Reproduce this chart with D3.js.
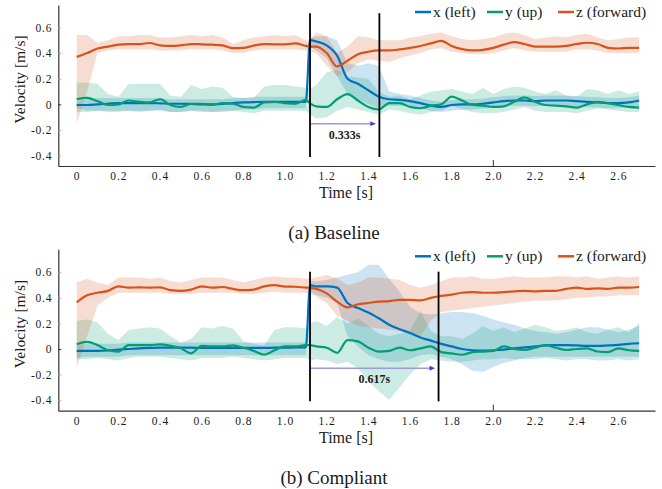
<!DOCTYPE html>
<html>
<head>
<meta charset="UTF-8">
<title>Velocity</title>
<script src="https://d3js.org/d3.v7.min.js"></script>
<style>
  body { margin: 0; background: #fff; }
  svg, svg text { font-family: "Liberation Serif", "Times New Roman", "DejaVu Serif", serif !important; }
  svg text { fill: #1a1a1a; }
</style>
</head>
<body>
<div id="chart"></div>
<script>
// time grid [s]
const T = [0,0.05,0.1,0.15,0.2,0.25,0.3,0.35,0.4,0.45,0.5,0.55,0.6,0.65,0.7,0.75,0.8,0.85,0.9,0.95,1.0,1.05,1.1,
  1.12,1.15,1.2,1.25,1.3,1.35,1.4,1.45,1.5,1.55,1.6,1.65,1.7,1.75,1.8,1.85,1.9,1.95,2.0,2.05,2.1,2.15,2.2,2.25,2.3,2.35,2.4,2.45,2.5,2.55,2.6,2.65,2.7];

const seriesNames = ["x (left)", "y (up)", "z (forward)"];
const seriesColors = ["#0072bd", "#009e73", "#d95319"];

// (a) Baseline
const bX   = [-0.005,-0.005,0,0.005,0.01,0.01,0.01,0.01,0.008,0.005,0.005,0.003,0,0,0.003,0.01,0.015,0.018,0.02,0.02,0.02,0.02,0.02,
  0.5,0.49,0.46,0.38,0.2,0.16,0.11,0.06,0.04,0.035,0.025,0.01,-0.01,-0.02,-0.005,0,0,0.005,0.015,0.025,0.03,0.03,0.025,0.03,0.03,0.03,0.025,0.02,0.015,0.01,0.01,0.015,0.03];
const bXlo = [-0.03,-0.05,-0.05,-0.05,-0.05,-0.05,-0.06,-0.05,-0.05,-0.06,-0.06,-0.05,-0.06,-0.06,-0.06,-0.05,-0.04,-0.04,-0.03,-0.03,-0.03,-0.03,-0.03,
  0.45,0.42,0.36,0.22,0.08,0.04,0,-0.03,-0.01,-0.01,-0.02,-0.03,-0.05,-0.06,-0.05,-0.04,-0.04,-0.035,-0.025,-0.015,-0.01,-0.01,-0.015,-0.01,-0.01,-0.01,-0.015,-0.02,-0.025,-0.03,-0.03,-0.025,-0.01];
const bXhi = [0.02,0.04,0.05,0.05,0.05,0.05,0.05,0.05,0.05,0.04,0.04,0.04,0.04,0.04,0.04,0.05,0.05,0.06,0.06,0.06,0.06,0.06,0.06,
  0.52,0.53,0.53,0.5,0.32,0.3,0.32,0.3,0.1,0.08,0.07,0.05,0.03,0.02,0.035,0.04,0.04,0.045,0.055,0.065,0.07,0.07,0.065,0.07,0.07,0.07,0.065,0.06,0.055,0.05,0.05,0.055,0.07];
const bY   = [0.04,0.05,0.025,-0.005,0,0.03,0.02,0.015,0.04,-0.005,-0.02,0.005,0.005,-0.005,0.01,0.005,-0.02,-0.025,0.015,0.02,0.01,0.005,0.035,
  0.008,-0.015,-0.02,0.04,0.08,0.03,-0.02,-0.04,0.01,0.01,-0.02,-0.03,-0.01,0,0.06,0.03,-0.005,-0.01,-0.02,-0.015,0.02,0.055,0.02,-0.005,-0.01,-0.015,-0.025,0,0.02,0.01,-0.005,-0.02,-0.025];
const bYlo = [-0.06,-0.06,-0.05,-0.06,-0.06,-0.05,-0.05,-0.05,-0.04,-0.06,-0.06,-0.05,-0.05,-0.06,-0.05,-0.05,-0.06,-0.07,-0.05,-0.05,-0.05,-0.05,-0.05,
  -0.08,-0.11,-0.1,-0.05,-0.02,-0.04,-0.06,-0.08,-0.04,-0.05,-0.07,-0.08,-0.06,-0.05,-0.01,-0.04,-0.06,-0.07,-0.07,-0.06,-0.04,-0.02,-0.05,-0.06,-0.06,-0.06,-0.07,-0.05,-0.03,-0.04,-0.05,-0.06,-0.06];
const bYhi = [0.17,0.17,0.16,0.08,0.06,0.16,0.16,0.16,0.16,0.07,0.06,0.15,0.12,0.14,0.13,0.06,0.05,0.05,0.14,0.15,0.15,0.14,0.13,
  0.12,0.15,0.25,0.27,0.22,0.21,0.2,0.1,0.06,0.07,0.04,0.07,0.1,0.11,0.12,0.1,0.08,0.13,0.08,0.12,0.14,0.13,0.1,0.08,0.11,0.07,0.06,0.12,0.11,0.08,0.11,0.08,0.1];
const bZ   = [0.37,0.4,0.435,0.45,0.465,0.47,0.47,0.478,0.46,0.455,0.46,0.47,0.468,0.465,0.46,0.438,0.44,0.458,0.47,0.468,0.468,0.475,0.455,
  0.45,0.45,0.4,0.295,0.34,0.39,0.41,0.42,0.42,0.428,0.44,0.455,0.475,0.495,0.455,0.43,0.42,0.425,0.44,0.465,0.485,0.47,0.45,0.45,0.45,0.455,0.47,0.48,0.47,0.44,0.435,0.44,0.44];
const bZlo = [-0.15,0.1,0.4,0.42,0.43,0.43,0.43,0.43,0.42,0.42,0.42,0.43,0.43,0.43,0.42,0.4,0.4,0.42,0.43,0.43,0.43,0.43,0.42,
  0.41,0.4,0.3,0.22,0.25,0.32,0.35,0.34,0.33,0.36,0.38,0.4,0.43,0.44,0.41,0.4,0.39,0.39,0.4,0.42,0.44,0.42,0.41,0.41,0.41,0.41,0.43,0.43,0.42,0.4,0.4,0.4,0.4];
const bZhi = [0.54,0.54,0.48,0.5,0.53,0.53,0.54,0.54,0.52,0.52,0.53,0.54,0.53,0.54,0.52,0.47,0.5,0.52,0.53,0.54,0.53,0.54,0.5,
  0.5,0.56,0.53,0.4,0.45,0.53,0.52,0.5,0.5,0.5,0.52,0.53,0.55,0.56,0.53,0.51,0.5,0.51,0.52,0.55,0.56,0.54,0.51,0.52,0.53,0.52,0.54,0.55,0.52,0.5,0.51,0.52,0.52];

// (b) Compliant
const cX   = [-0.015,-0.015,-0.015,-0.012,-0.005,0,0.005,0.008,0.01,0.01,0.01,0.01,0.008,0.008,0.008,0.008,0.008,0.008,0.008,0.01,0.01,0.012,0.012,
  0.5,0.49,0.49,0.48,0.36,0.32,0.285,0.24,0.19,0.155,0.125,0.09,0.065,0.04,0.02,0,-0.01,-0.012,-0.01,-0.005,0.005,0.012,0.02,0.028,0.03,0.03,0.028,0.025,0.025,0.028,0.032,0.04,0.045];
const cXlo = [-0.07,-0.06,-0.06,-0.06,-0.06,-0.05,-0.05,-0.05,-0.05,-0.05,-0.05,-0.05,-0.05,-0.05,-0.05,-0.05,-0.05,-0.05,-0.05,-0.05,-0.05,-0.05,-0.05,
  0.45,0.42,0.4,0.36,0.1,0.02,-0.05,-0.08,-0.1,-0.1,-0.08,-0.05,-0.04,-0.06,-0.08,-0.12,-0.17,-0.18,-0.14,-0.11,-0.09,-0.07,-0.06,-0.06,-0.06,-0.06,-0.06,-0.06,-0.06,-0.06,-0.06,-0.06,-0.06];
const cXhi = [0.03,0.04,0.04,0.04,0.04,0.05,0.05,0.05,0.05,0.05,0.05,0.05,0.05,0.05,0.05,0.05,0.05,0.05,0.05,0.05,0.05,0.05,0.05,
  0.53,0.53,0.54,0.56,0.58,0.6,0.66,0.66,0.55,0.45,0.33,0.28,0.27,0.28,0.29,0.29,0.28,0.26,0.23,0.21,0.19,0.16,0.14,0.13,0.12,0.13,0.15,0.17,0.17,0.15,0.13,0.15,0.18];
const cY   = [0.037,0.055,0.03,-0.01,-0.02,0.03,0.03,0.03,0.036,0.025,0.005,-0.034,0.025,0.02,0.02,0.028,0.01,-0.015,-0.045,-0.01,0.02,0.02,0.03,
  0.03,0.02,0.01,-0.03,0.07,0.06,0.01,-0.02,-0.015,0.01,-0.01,0.005,0.02,-0.025,-0.035,-0.045,-0.025,-0.02,-0.015,0.02,0,-0.008,0.01,0.03,0.01,-0.008,0,0.005,-0.02,-0.025,0.005,-0.01,-0.015];
const cYlo = [-0.08,-0.08,-0.07,-0.08,-0.09,-0.07,-0.06,-0.06,-0.06,-0.07,-0.08,-0.09,-0.07,-0.07,-0.07,-0.06,-0.07,-0.08,-0.09,-0.08,-0.07,-0.07,-0.07,
  -0.09,-0.08,-0.09,-0.12,-0.1,-0.15,-0.25,-0.33,-0.4,-0.3,-0.2,-0.12,-0.08,-0.09,-0.1,-0.1,-0.09,-0.08,-0.08,-0.07,-0.08,-0.08,-0.08,-0.07,-0.08,-0.09,-0.08,-0.08,-0.09,-0.09,-0.08,-0.09,-0.08];
const cYhi = [0.22,0.23,0.21,0.12,0.07,0.15,0.16,0.17,0.16,0.1,0.05,0.08,0.17,0.16,0.18,0.16,0.06,0.04,0.03,0.15,0.17,0.17,0.16,
  0.2,0.22,0.18,0.25,0.2,0.24,0.18,0.12,0.1,0.12,0.14,0.3,0.14,0.1,0.1,0.08,0.12,0.18,0.14,0.17,0.13,0.16,0.19,0.17,0.14,0.15,0.17,0.13,0.12,0.15,0.17,0.13,0.2];
const cZ   = [0.365,0.42,0.44,0.455,0.49,0.48,0.482,0.48,0.482,0.46,0.455,0.465,0.49,0.48,0.485,0.47,0.46,0.465,0.49,0.5,0.488,0.487,0.48,
  0.478,0.47,0.435,0.37,0.325,0.35,0.36,0.37,0.375,0.385,0.385,0.38,0.4,0.415,0.425,0.44,0.445,0.44,0.44,0.445,0.45,0.455,0.45,0.455,0.455,0.47,0.48,0.47,0.475,0.47,0.48,0.48,0.485];
const cZlo = [-0.15,0.1,0.34,0.4,0.44,0.44,0.44,0.44,0.44,0.43,0.43,0.43,0.44,0.44,0.44,0.44,0.43,0.43,0.44,0.45,0.44,0.44,0.44,
  0.43,0.41,0.36,0.26,0.22,0.18,0.17,0.16,0.15,0.14,0.12,0.1,0.22,0.29,0.3,0.31,0.32,0.33,0.34,0.35,0.36,0.37,0.38,0.38,0.38,0.39,0.4,0.4,0.41,0.41,0.42,0.42,0.42];
const cZhi = [0.52,0.55,0.52,0.5,0.56,0.56,0.56,0.55,0.56,0.53,0.52,0.54,0.56,0.56,0.56,0.54,0.52,0.54,0.56,0.57,0.56,0.56,0.55,
  0.55,0.56,0.58,0.55,0.5,0.52,0.56,0.56,0.55,0.54,0.5,0.48,0.5,0.53,0.56,0.56,0.57,0.55,0.55,0.56,0.57,0.56,0.56,0.56,0.57,0.57,0.56,0.57,0.55,0.56,0.57,0.56,0.57];

// reaction markers and tick values
const bEvents = [1.12, 1.453], bDelay = "0.333s";
const cEvents = [1.12, 1.737], cDelay = "0.617s";
const xTicks = d3.range(0, 14).map(i => +(i * 0.2).toFixed(1));
const yTicks = [-0.4, -0.2, 0, 0.2, 0.4, 0.6];

const FONT = "Liberation Serif, Times New Roman, serif";
const width = 662, height = 489;
const svg = d3.select("#chart").append("svg")
  .attr("width", width).attr("height", height)
  .attr("font-family", FONT);

const defs = svg.append("defs");
defs.append("marker")
  .attr("id", "arrow").attr("viewBox", "0 0 10 10")
  .attr("refX", 10).attr("refY", 5)
  .attr("markerWidth", 7).attr("markerHeight", 5)
  .attr("markerUnits", "userSpaceOnUse")
  .attr("orient", "auto")
  .append("path").attr("d", "M0,0L10,5L0,10Z").attr("fill", "#3c3cd0");

const fmt = d => d === 0 ? "0" : d.toFixed(1);

function panel(cfg) {
  const x = d3.scaleLinear().domain([-0.0883, 2.776]).range([58.3, 655]);
  const y = d3.scaleLinear().domain(cfg.yDomain).range([cfg.bottom, cfg.top]);
  const g = svg.append("g");

  const data = [
    { m: cfg.x, lo: cfg.xlo, hi: cfg.xhi },
    { m: cfg.y, lo: cfg.ylo, hi: cfg.yhi },
    { m: cfg.z, lo: cfg.zlo, hi: cfg.zhi }
  ];

  const area = d3.area().x((d, i) => x(T[i]));
  const line = d3.line().x((d, i) => x(T[i])).y(d => y(d)).curve(d3.curveMonotoneX);

  // bands
  data.forEach((s, k) => {
    g.append("path")
      .datum(s.m)
      .attr("d", area.y0((d, i) => y(s.lo[i])).y1((d, i) => y(s.hi[i])))
      .attr("fill", seriesColors[k])
      .attr("fill-opacity", 0.2);
  });
  // mean lines
  data.forEach((s, k) => {
    g.append("path")
      .datum(s.m)
      .attr("d", line)
      .attr("fill", "none")
      .attr("stroke", seriesColors[k])
      .attr("stroke-width", 2.2);
  });

  // axes
  const xAxis = g.append("g").attr("transform", `translate(0,${cfg.bottom})`)
    .call(d3.axisBottom(x).tickValues(xTicks).tickFormat(fmt).tickSize(0).tickPadding(6));
  xAxis.attr("font-family", FONT);
  xAxis.select(".domain").attr("stroke", "#333").attr("stroke-width", 1.2);
  xAxis.selectAll("text").attr("font-size", 11.5).style("letter-spacing", "1px");
  xAxis.append("line").attr("x1", x(2)).attr("x2", x(2)).attr("y1", 0).attr("y2", -6)
    .attr("stroke", "#333");

  const yAxis = g.append("g").attr("transform", `translate(58.3,0)`)
    .call(d3.axisLeft(y).tickValues(yTicks).tickFormat(fmt).tickSizeInner(-3).tickSizeOuter(0).tickPadding(6));
  yAxis.attr("font-family", FONT);
  yAxis.select(".domain").attr("stroke", "#333").attr("stroke-width", 1.2);
  yAxis.selectAll(".tick line").attr("stroke", d => d === 0 ? "#333" : "#aaa");
  yAxis.selectAll("text").attr("font-size", 11.5).style("letter-spacing", "0.8px");

  g.append("text")
    .attr("transform", `translate(20,${(cfg.top + cfg.bottom) / 2 - 6}) rotate(-90)`)
    .attr("text-anchor", "middle").attr("dy", "0.35em")
    .attr("font-size", 15.5).text("Velocity [m/s]");
  g.append("text")
    .attr("x", 346).attr("y", cfg.bottom + 32)
    .attr("text-anchor", "middle").attr("font-size", 16).text("Time [s]");

  // event lines
  cfg.events.forEach(t => {
    g.append("line")
      .attr("x1", x(t)).attr("x2", x(t))
      .attr("y1", y(cfg.lineTop)).attr("y2", y(-0.41))
      .attr("stroke", "#000").attr("stroke-width", 1.8);
  });
  g.append("line")
    .attr("x1", x(cfg.events[0]) + 1).attr("x2", x(cfg.events[1]) - 4)
    .attr("y1", y(-0.15)).attr("y2", y(-0.15))
    .attr("stroke", "#9a9ae0").attr("stroke-width", 1.5)
    .attr("marker-end", "url(#arrow)");
  g.append("text")
    .attr("x", (x(cfg.events[0]) + x(cfg.events[1])) / 2).attr("y", y(-0.15) + 15)
    .attr("text-anchor", "middle").attr("font-size", 12).attr("font-weight", "bold")
    .text(cfg.delay);

  // legend
  const lg = g.append("g").attr("transform", `translate(0,${cfg.top + 7})`);
  const legX = [415, 487, 558];
  seriesNames.forEach((n, k) => {
    lg.append("line").attr("x1", legX[k]).attr("x2", legX[k] + 16)
      .attr("y1", 0).attr("y2", 0)
      .attr("stroke", seriesColors[k]).attr("stroke-width", 2.5);
    lg.append("text").attr("x", legX[k] + 18).attr("y", 0).attr("dy", "0.33em")
      .attr("font-size", 15.5).text(n);
  });

  svg.append("text")
    .attr("x", 334).attr("y", cfg.caption)
    .attr("text-anchor", "middle").attr("font-size", 19)
    .text(cfg.title);
}

panel({ top: 5, bottom: 166, yDomain: [-0.48, 0.774], lineTop: 0.71,
  x: bX, xlo: bXlo, xhi: bXhi, y: bY, ylo: bYlo, yhi: bYhi, z: bZ, zlo: bZlo, zhi: bZhi,
  events: bEvents, delay: bDelay, title: "(a)  Baseline", caption: 239 });
panel({ top: 249.3, bottom: 410.7, yDomain: [-0.483, 0.78], lineTop: 0.605,
  x: cX, xlo: cXlo, xhi: cXhi, y: cY, ylo: cYlo, yhi: cYhi, z: cZ, zlo: cZlo, zhi: cZhi,
  events: cEvents, delay: cDelay, title: "(b)  Compliant", caption: 484 });
</script>
</body>
</html>
